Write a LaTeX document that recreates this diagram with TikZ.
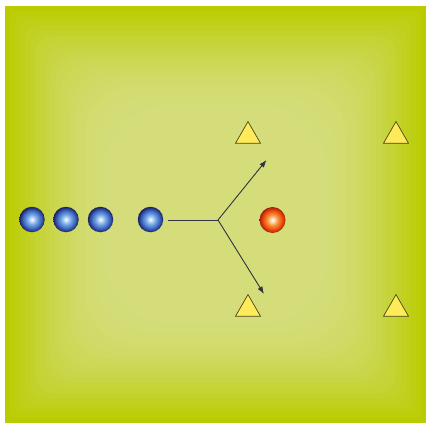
\documentclass[tikz,border=0pt]{standalone}
\usetikzlibrary{arrows.meta,shapes.geometric}
\definecolor{edgec}{RGB}{186,204,0}
\definecolor{centc}{RGB}{212,221,122}
\definecolor{triy}{RGB}{255,234,90}
\definecolor{lnc}{RGB}{50,50,65}
\pgfdeclareradialshading{blueball}{\pgfpoint{0bp}{0bp}}{color(0bp)=(white); color(3bp)=(rgb,255:red,205;green,228;blue,250); color(10bp)=(rgb,255:red,115;green,165;blue,228); color(18bp)=(rgb,255:red,60;green,100;blue,190); color(22.5bp)=(rgb,255:red,38;green,55;blue,130); color(25bp)=(rgb,255:red,25;green,30;blue,85); color(50bp)=(rgb,255:red,25;green,30;blue,85)}
\pgfdeclareradialshading{redball}{\pgfpoint{0bp}{0bp}}{color(0bp)=(white); color(3bp)=(rgb,255:red,255;green,232;blue,205); color(10bp)=(rgb,255:red,250;green,150;blue,60); color(18bp)=(rgb,255:red,235;green,80;blue,15); color(22.5bp)=(rgb,255:red,200;green,45;blue,10); color(25bp)=(rgb,255:red,150;green,35;blue,10); color(50bp)=(rgb,255:red,150;green,35;blue,10)}
\tikzset{
  ballb/.style={circle, minimum size=25.5pt, inner sep=0pt, shading=blueball},
  ballr/.style={circle, minimum size=26pt, inner sep=0pt, shading=redball},
  cone/.style={isosceles triangle, shape border rotate=90, isosceles triangle apex angle=60, minimum height=21pt, minimum width=25pt, inner sep=0pt, fill=triy, draw=black!70!triy, line width=0.7pt},
  mv/.style={draw=lnc, line width=0.9pt},
  mva/.style={mv, -{Latex[length=7.5pt,width=5.5pt]}}
}
\begin{document}
\begin{tikzpicture}[x=1pt,y=-1pt]
\useasboundingbox (0,0) rectangle (426,423);
\fill[white] (0,0) rectangle (426,423);
\foreach \i in {0,...,22}{
  \pgfmathsetmacro\p{100*sin(90*\i/22)}
  \pgfmathsetmacro\r{\i*3}
  \pgfmathsetmacro\d{\i*5}
  \fill[centc!\p!edgec, rounded corners=\r pt] (5+\d, 6+\d) rectangle (426-\d, 423-\d);
}
\node[ballb] (b1) at (32,219.5) {};
\node[ballb] (b2) at (66,219.5) {};
\node[ballb] (b3) at (100.5,219.5) {};
\node[ballb] (b4) at (150.5,219.5) {};
\node[ballr] (r) at (272.5,220) {};
\node[cone] (t1) at (248,136) {};
\node[cone] (t2) at (248,309) {};
\node[cone] (t3) at (396,136) {};
\node[cone] (t4) at (396,309) {};
\coordinate (s) at (168,220);
\coordinate (j) at (218,220);
\coordinate (e1) at (266.5,160);
\coordinate (e2) at (264,294);
\draw[mv] (s) -- (j);
\draw[mva] (j) -- (e1);
\draw[mva] (j) -- (e2);
\end{tikzpicture}
\end{document}
